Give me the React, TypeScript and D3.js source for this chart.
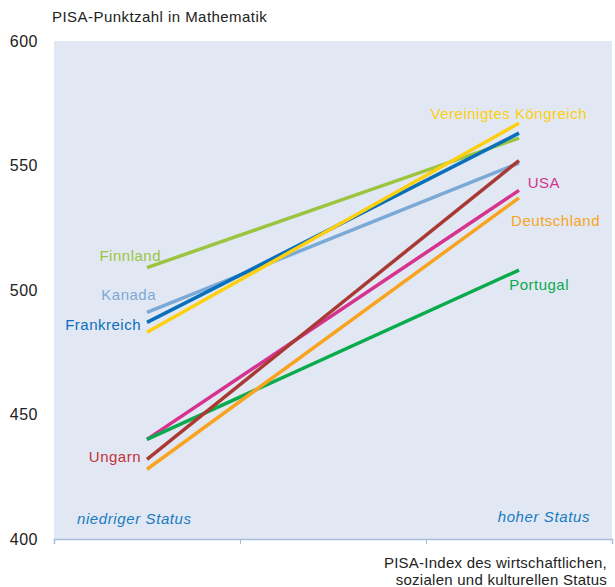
import React, { useEffect, useRef } from "react";
import * as d3 from "d3";

// PISA scores by socio-economic status (low / high)
const countries = ["Finnland", "Kanada", "Frankreich", "Vereinigtes Köngreich", "USA", "Portugal", "Ungarn", "Deutschland"];
const lowStatus = [509, 491, 487, 483, 440, 440, 432, 428];
const highStatus = [561, 551, 563, 567, 540, 508, 552, 537];
const colors = ["#9cc43e", "#7ba9d6", "#0a6fba", "#fccf0f", "#d6338f", "#0aab4c", "#a93a33", "#f8a422"];
const labelColors = ["#9cc43e", "#7ba9d6", "#0a6fba", "#fccf0f", "#d6338f", "#0aab4c", "#c23238", "#f8a422"];
const yTicks = [400, 450, 500, 550, 600];

// label placement in score units
const labelScore = [514, 498, 486, 571, 543, 502, 433, 528];

const App = () => {
  const svgRef = useRef<SVGSVGElement>(null);

  useEffect(() => {
    const svg = d3.select(svgRef.current);
    svg.selectAll("*").remove();
    const width = 615;
    const height = 587;
    const margin = { top: 41, right: 3, bottom: 48, left: 54 };
    const font = "'Liberation Sans', Arial, sans-serif";

    const x = d3.scaleLinear().domain([0, 3]).range([margin.left, width - margin.right]);
    const y = d3.scaleLinear().domain([400, 600]).range([height - margin.bottom, margin.top]);

    // background
    svg.append("rect")
      .attr("x", x(0))
      .attr("y", y(600))
      .attr("width", x(3) - x(0))
      .attr("height", y(400) - y(600))
      .attr("fill", "#e1e8f4");

    // x axis
    const xAxis = svg.append("g")
      .attr("transform", `translate(0,${y(400)})`)
      .call(d3.axisBottom(x).tickValues([0, 1, 2, 3]).tickSize(5).tickFormat(() => ""));
    xAxis.select(".domain").attr("stroke", "#a9bedb").attr("stroke-width", 1.5);
    xAxis.selectAll(".tick line").attr("stroke", "#a9bedb");

    // y labels
    svg.selectAll(".ytick")
      .data(yTicks)
      .enter()
      .append("text")
      .attr("x", 38)
      .attr("y", (d) => y(d))
      .attr("dy", "0.36em")
      .attr("text-anchor", "end")
      .attr("font-family", font)
      .attr("font-size", 16)
      .attr("letter-spacing", 0.5)
      .attr("fill", "#222")
      .text((d) => d);

    svg.append("text")
      .attr("x", 52)
      .attr("y", 22)
      .attr("font-family", font)
      .attr("font-size", 15)
      .attr("letter-spacing", 0.45)
      .attr("fill", "#222")
      .text("PISA-Punktzahl in Mathematik");

    // lines
    const line = d3.line<[number, number]>().x((d) => x(d[0])).y((d) => y(d[1]));
    countries.forEach((c, i) => {
      svg.append("path")
        .attr("d", line([[0.5, lowStatus[i]], [2.5, highStatus[i]]]))
        .attr("stroke", colors[i])
        .attr("stroke-width", 3.5)
        .attr("fill", "none");
    });

    // country labels
    const labelX: Record<string, number> = {
      "Finnland": 161,
      "Kanada": 156,
      "Frankreich": 141,
      "Ungarn": 141,
      "Vereinigtes Köngreich": 587,
      "USA": 560,
      "Deutschland": 600,
      "Portugal": 569,
    };
    countries.forEach((c, i) => {
      svg.append("text")
        .attr("x", labelX[c])
        .attr("y", y(labelScore[i]))
        .attr("dy", "0.36em")
        .attr("text-anchor", "end")
        .attr("font-family", font)
        .attr("font-size", 15)
        .attr("letter-spacing", 0.5)
        .attr("fill", labelColors[i])
        .text(c);
    });

    // status annotations
    svg.append("text")
      .attr("x", 77)
      .attr("y", y(406))
      .attr("font-family", font)
      .attr("font-size", 15)
      .attr("letter-spacing", 0.6)
      .attr("font-style", "italic")
      .attr("fill", "#1a7abf")
      .text("niedriger Status");
    svg.append("text")
      .attr("x", 590)
      .attr("y", y(407))
      .attr("text-anchor", "end")
      .attr("font-family", font)
      .attr("font-size", 15)
      .attr("letter-spacing", 0.6)
      .attr("font-style", "italic")
      .attr("fill", "#1a7abf")
      .text("hoher Status");

    // x axis title
    const title = svg.append("text")
      .attr("text-anchor", "end")
      .attr("font-family", font)
      .attr("font-size", 15)
      .attr("letter-spacing", 0.25)
      .attr("fill", "#222");
    title.append("tspan").attr("x", 607).attr("y", 568).text("PISA-Index des wirtschaftlichen,");
    title.append("tspan").attr("x", 607).attr("y", 585).text("sozialen und kulturellen Status");
  }, []);

  return <svg ref={svgRef} width={615} height={587} style={{ position: "absolute", left: 0, top: 0 }}></svg>;
};

export default App;
